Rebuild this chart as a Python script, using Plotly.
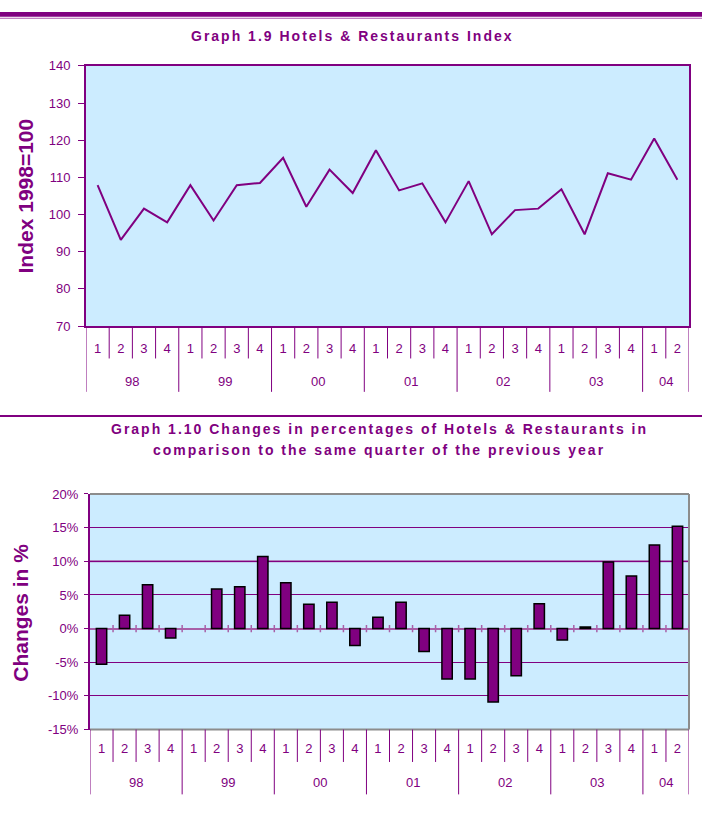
import plotly.graph_objects as go

W, H = 702, 823
PURPLE = "#800080"
LIGHT_PURPLE = "#A860A8"
BG = "#CCECFF"
GRAY = "#8C8C8C"

quarters = ["1", "2", "3", "4"] * 6 + ["1", "2"]
years = ["98", "99", "00", "01", "02", "03", "04"]
year_sizes = [4, 4, 4, 4, 4, 4, 2]

index_values = [107.9, 93.2, 101.6, 97.9, 107.9, 98.4, 107.9, 108.5, 115.3, 102.1,
                112.1, 105.8, 117.3, 106.5, 108.4, 97.9, 109.0, 94.7, 101.2, 101.6,
                106.8, 94.7, 111.1, 109.4, 120.5, 109.4]

change_pct = [-5.3, 2.0, 6.5, -1.4, None, 5.9, 6.2, 10.7, 6.8, 3.6,
              3.9, -2.5, 1.7, 3.9, -3.4, -7.5, -7.5, -10.9, -7.0, 3.7,
              -1.7, 0.25, 9.9, 7.8, 12.4, 15.2]

idx_ticks = [70, 80, 90, 100, 110, 120, 130, 140]
pct_ticks = [-15, -10, -5, 0, 5, 10, 15, 20]
pct_ticktext = ["-15%", "-10%", "-5%", "0%", "5%", "10%", "15%", "20%"]


def px(x):
    return x / W


def py(y):
    return 1 - y / H


n = len(quarters)
xs = list(range(n))

fig = go.Figure()
fig.add_trace(go.Scatter(x=xs, y=index_values, mode="lines",
                         line=dict(color=PURPLE, width=2), xaxis="x", yaxis="y",
                         showlegend=False, hoverinfo="skip"))
fig.add_trace(go.Bar(x=xs, y=change_pct, width=0.45,
                     marker=dict(color=PURPLE, line=dict(color="black", width=1.5)),
                     xaxis="x2", yaxis="y2", showlegend=False, hoverinfo="skip"))

tickfont = dict(family="Liberation Sans, Arial", size=13, color=PURPLE)

fig.update_layout(
    width=W, height=H, margin=dict(l=0, r=0, t=0, b=0),
    paper_bgcolor="white", plot_bgcolor=BG,
    xaxis=dict(domain=[px(86), px(689)], range=[-0.5, n - 0.5], anchor="y",
               tickvals=xs, ticktext=quarters, ticks="", ticklabelstandoff=9,
               tickfont=tickfont, showline=True, linecolor=PURPLE, linewidth=2,
               mirror=True, showgrid=False, zeroline=False, fixedrange=True),
    yaxis=dict(domain=[py(325), py(60)], range=[70, 140], anchor="x",
               tickvals=idx_ticks, ticks="outside", ticklen=6, tickcolor=PURPLE,
               tickfont=tickfont, showline=True, linecolor=PURPLE, linewidth=2,
               mirror=True, showgrid=False, zeroline=False, ticklabelstandoff=5),
    xaxis2=dict(domain=[px(90), px(689)], range=[-0.5, n - 0.5], anchor="y2",
                tickvals=xs, ticktext=quarters, ticks="", ticklabelstandoff=9,
                tickfont=tickfont, showline=False, showgrid=False, zeroline=False),
    yaxis2=dict(domain=[py(736), py(496)], range=[-15, 20], anchor="x2",
                tickvals=pct_ticks, ticktext=pct_ticktext, ticks="outside", ticklen=4,
                tickcolor=PURPLE, tickfont=tickfont, showline=True, linecolor=PURPLE,
                linewidth=2, showgrid=True, gridcolor=PURPLE, gridwidth=1,
                zeroline=True, zerolinecolor=LIGHT_PURPLE, zerolinewidth=2,
                ticklabelstandoff=3),
)

shapes = []
# header rule
shapes.append(dict(type="rect", xref="paper", yref="paper", x0=0, x1=1,
                   y0=py(10), y1=py(5), fillcolor=PURPLE, line=dict(width=0)))
shapes.append(dict(type="line", xref="paper", yref="paper", x0=0, x1=1,
                   y0=py(11.5), y1=py(11.5), line=dict(color="#B060B0", width=1)))
# separator between charts
shapes.append(dict(type="line", xref="paper", yref="paper", x0=0, x1=1,
                   y0=py(416.5), y1=py(416.5), line=dict(color=PURPLE, width=2)))

# lighter 10% gridline
shapes.append(dict(type="line", xref="x2 domain", yref="y2", x0=0, x1=1, y0=10, y1=10,
                   layer="below", line=dict(color=LIGHT_PURPLE, width=2)))

# gray border for bottom plot (top, right, bottom)
for (x0, y0, x1, y1) in [(0, 1, 1, 1), (1, 0, 1, 1), (0, 0, 1, 0)]:
    shapes.append(dict(type="line", xref="x2 domain", yref="y2 domain",
                       x0=x0, y0=y0, x1=x1, y1=y1, line=dict(color=GRAY, width=2)))

# category separators below axes
group_bounds = {0}
acc = 0
for s in year_sizes:
    acc += s
    group_bounds.add(acc)

for xr, top, q_end, g_end in [("x", 325, 358, 392), ("x2", 736, 769, 802)]:
    for b in range(n + 1):
        bottom = g_end if b in group_bounds else q_end
        shapes.append(dict(type="line", xref=xr, yref="paper", x0=b - 0.5, x1=b - 0.5,
                           y0=py(top), y1=py(bottom), line=dict(color=PURPLE, width=1)))

# tick marks on the zero line of the bar chart
for b in range(1, n + 1):
    shapes.append(dict(type="line", xref="x2", yref="y2", x0=b - 0.5, x1=b - 0.5,
                       y0=-0.55, y1=0.55, line=dict(color=LIGHT_PURPLE, width=1.5)))

annotations = []
acc = 0
for yr, s in zip(years, year_sizes):
    center = acc + (s - 1) / 2
    acc += s
    for xr, ycen in [("x", 381), ("x2", 790)]:
        annotations.append(dict(text=yr, xref=xr, yref="paper", x=center, y=py(ycen),
                                showarrow=False, font=tickfont, yanchor="middle"))

title_font = dict(family="Liberation Sans, Arial", size=14, color=PURPLE, weight="bold")
SP = '<span style="letter-spacing:2px">{}</span>'
annotations.append(dict(text=SP.format("Graph 1.9 Hotels &amp; Restaurants Index"),
                        xref="paper", yref="paper", x=px(353), y=py(30),
                        showarrow=False, font=title_font, yanchor="middle"))
annotations.append(dict(text=SP.format("Graph 1.10 Changes in percentages of Hotels &amp; Restaurants in"),
                        xref="paper", yref="paper", x=px(379), y=py(430),
                        showarrow=False, font=title_font, yanchor="middle"))
annotations.append(dict(text=SP.format("comparison to the same quarter of the previous year"),
                        xref="paper", yref="paper", x=px(379), y=py(451),
                        showarrow=False, font=title_font, yanchor="middle"))

ytitle_font = dict(family="Liberation Sans, Arial", size=21, color=PURPLE, weight="bold")
annotations.append(dict(text="Index 1998=100", xref="paper", yref="paper",
                        x=px(25), y=py(193), textangle=-90, showarrow=False,
                        font=ytitle_font, xanchor="center", yanchor="middle"))
annotations.append(dict(text="Changes in %", xref="paper", yref="paper",
                        x=px(21), y=py(617), textangle=-90, showarrow=False,
                        font=ytitle_font, xanchor="center", yanchor="middle"))

fig.update_layout(shapes=shapes, annotations=annotations)
fig.write_html("out.html", config={"displayModeBar": False, "staticPlot": True},
               post_script="document.body.style.margin='0';document.body.style.overflow='hidden';")
